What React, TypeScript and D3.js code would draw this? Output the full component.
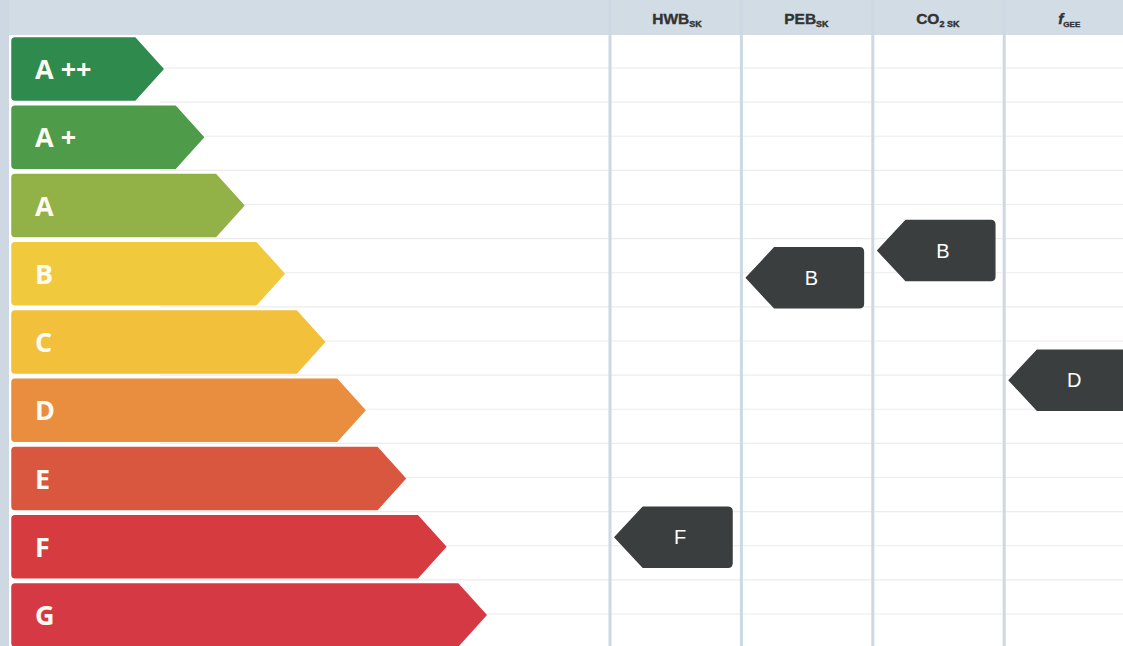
import React from "react";
import * as d3 from "d3";

const classes = ["A ++", "A +", "A", "B", "C", "D", "E", "F", "G"];
const classColors = ["#2f8a4d", "#4e9c49", "#92b146", "#f1c93d", "#f3c03b", "#e98d3e", "#d9573f", "#d63b40", "#d53a44"];
const columns = ["HWB", "PEB", "CO2", "fGEE"];
const markerLabels = ["F", "B", "B", "D"];
// vertical position on the class scale (row index of marker centre)
const markerPos = [6.86, 3.06, 2.66, 4.56];

const W = 1123;
const H = 646;

export default function App() {
  const rowTop = d3.scaleLinear().domain([0, 9]).range([38, 38 + 9 * 68.25]);
  const tipX = d3.scaleLinear().domain([0, 8]).range([163, 486]);
  const colX = d3.scaleLinear().domain([0, 4]).range([610, 610 + 4 * 131.4]);
  const barH = 62;
  const tipLen = 28;
  const x0 = 12;

  const barPath = (i: number) => {
    const y0 = rowTop(i);
    const y1 = y0 + barH;
    const yc = (y0 + y1) / 2;
    const t = tipX(i);
    const be = t - tipLen;
    const r = 3;
    return `M${x0 + r},${y0} L${be},${y0} L${t},${yc} L${be},${y1} L${x0 + r},${y1} Q${x0},${y1} ${x0},${y1 - r} L${x0},${y0 + r} Q${x0},${y0} ${x0 + r},${y0} Z`;
  };

  const markerPath = (c: number) => {
    const left = colX(c) + 5;
    const yc = rowTop(markerPos[c]) + barH / 2;
    const h = 60;
    const y0 = yc - h / 2;
    const y1 = yc + h / 2;
    const be = left + tipLen;
    const right = left + 117;
    const r = 4;
    return `M${left},${yc} L${be},${y0} L${right - r},${y0} Q${right},${y0} ${right},${y0 + r} L${right},${y1 - r} Q${right},${y1} ${right - r},${y1} L${be},${y1} Z`;
  };

  const hLines = d3.range(0, 18).map((k) => 68 + k * 34.125);

  const headerFont = "'Liberation Sans', Arial, sans-serif";

  return (
    <svg width={W} height={H} style={{ position: "absolute", left: 0, top: 0 }} xmlns="http://www.w3.org/2000/svg">
      <rect x={0} y={0} width={W} height={H} fill="#ffffff" />
      {/* header band */}
      <rect x={0} y={0} width={W} height={35} fill="#d2dce5" />
      <rect x={0} y={0} width={9} height={H} fill="#cdd8e2" />
      {/* faint horizontal grid lines */}
      {hLines.map((y, k) => (
        <line key={k} x1={160} x2={W} y1={y} y2={y} stroke="#ececec" strokeWidth={1.2} />
      ))}
      {/* column lines */}
      {columns.map((_, c) => (
        <line key={c} x1={colX(c)} x2={colX(c)} y1={0} y2={H} stroke="#ccd8e4" strokeWidth={3} />
      ))}
      {/* column headers */}
      <g fontFamily={headerFont} fontWeight={900} fill="#333333" stroke="#333333" strokeWidth={0.4}>
        <text x={colX(0) + 67} y={24} textAnchor="middle" fontSize={15.5}>
          HWB<tspan fontSize={9} dy={3}>SK</tspan>
        </text>
        <text x={colX(1) + 65} y={24} textAnchor="middle" fontSize={15.5}>
          PEB<tspan fontSize={9} dy={3}>SK</tspan>
        </text>
        <text x={colX(2) + 65} y={24} textAnchor="middle" fontSize={15.5}>
          CO<tspan fontSize={9} dy={3}>2 SK</tspan>
        </text>
        <text x={colX(3) + 65} y={24} textAnchor="middle" fontSize={15.5}>
          <tspan fontStyle="italic">f</tspan>
          <tspan fontSize={8} dy={3}>GEE</tspan>
        </text>
      </g>
      {/* class bars */}
      {classes.map((cl, i) => (
        <g key={cl}>
          <path d={barPath(i)} fill={classColors[i]} stroke={classColors[i]} strokeWidth={1.5} strokeLinejoin="round" />
          <text
            x={35}
            y={rowTop(i) + barH / 2 + 10}
            fill="#fdfbf0"
            fontFamily="'Open Sans', 'Noto Sans', sans-serif"
            fontWeight={700}
            fontSize={27}
          >
            {cl}
          </text>
        </g>
      ))}
      {/* markers */}
      {columns.map((col, c) => (
        <g key={col}>
          <path d={markerPath(c)} fill="#3b3e3e" stroke="#3b3e3e" strokeWidth={1.5} strokeLinejoin="round" />
          <text
            x={colX(c) + 5 + 65}
            y={rowTop(markerPos[c]) + barH / 2 + 7}
            textAnchor="middle"
            fill="#ffffff"
            fontFamily="'Liberation Sans', Arial, sans-serif"
            fontSize={20}
          >
            {markerLabels[c]}
          </text>
        </g>
      ))}
    </svg>
  );
}
